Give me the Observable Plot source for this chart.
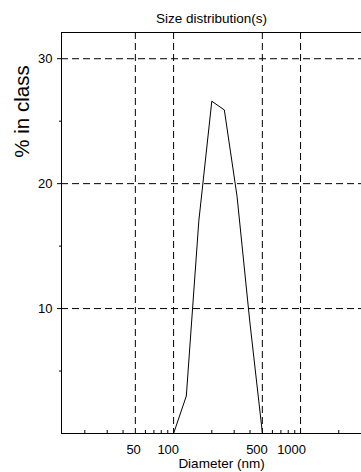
<!DOCTYPE html>
<html>
<head>
<meta charset="utf-8">
<script src="https://cdn.jsdelivr.net/npm/d3@7"></script>
<script src="https://cdn.jsdelivr.net/npm/@observablehq/plot@0.6"></script>
<style>
  html, body { margin: 0; padding: 0; background: white; overflow: hidden; }
</style>
</head>
<body>
<div id="chart"></div>
<script>
const diameters = [100, 126, 158, 200, 251, 316, 398, 501];
const percents = [0, 3.0, 17.0, 26.6, 25.9, 19.0, 9.0, 0];
const xDomain = [13.1, 3020];
const yDomain = [0, 32.1];
const xGrid = [50, 100, 500, 1000];
const yGrid = [10, 20, 30];
const xMinor = [20, 30, 40, 60, 70, 80, 90, 200, 300, 400, 600, 700, 800, 900, 2000];
const yMinor = [5, 15, 25];
const title = "Size distribution(s)";
const xLabel = "Diameter (nm)";
const yLabel = "% in class";

const data = diameters.map((d, i) => ({d, p: percents[i]}));
const dash = "7,4";

const chart = Plot.plot({
  width: 361,
  height: 472,
  marginLeft: 61,
  marginRight: 0,
  marginTop: 32,
  marginBottom: 39,
  style: {fontFamily: "'Liberation Sans', Arial, sans-serif", fontSize: "13px", background: "white", color: "black"},
  x: {type: "log", domain: xDomain},
  y: {domain: yDomain},
  marks: [
    Plot.ruleY(yGrid, {stroke: "black", strokeDasharray: dash}),
    Plot.ruleX(xGrid, {stroke: "black", strokeDasharray: dash}),
    Plot.ruleY([yDomain[1]], {stroke: "black"}),
    Plot.ruleY([yDomain[0]], {stroke: "black"}),
    Plot.ruleX([xDomain[0]], {stroke: "black"}),
    Plot.axisY({ticks: yGrid, tickSize: 4, tickPadding: 5, fontSize: 13, label: null, tickFormat: d => String(d)}),
    Plot.axisY({ticks: yMinor, tickSize: 2, text: null, label: null}),
    Plot.axisX({ticks: xMinor, tickSize: -3, text: null, label: null}),
    Plot.axisX({ticks: xGrid, tickSize: 0, tickPadding: 11, textAnchor: "end", dx: 5.5, fontSize: 13, label: null, tickFormat: d => String(d)}),
    Plot.line(data, {x: "d", y: "p", stroke: "black", strokeWidth: 1}),
    Plot.text([title], {frameAnchor: "top", textAnchor: "middle", lineAnchor: "middle", dy: -14, fontSize: 13.5, text: d => d}),
    Plot.text([xLabel], {frameAnchor: "bottom", textAnchor: "middle", lineAnchor: "middle", dx: 10, dy: 30, fontSize: 13.5, text: d => d}),
    Plot.text([yLabel], {frameAnchor: "top-left", textAnchor: "middle", lineAnchor: "middle", dx: -39, dy: 79, rotate: -90, fontSize: 20.5, text: d => d})
  ]
});
document.getElementById("chart").appendChild(chart);
</script>
</body>
</html>
